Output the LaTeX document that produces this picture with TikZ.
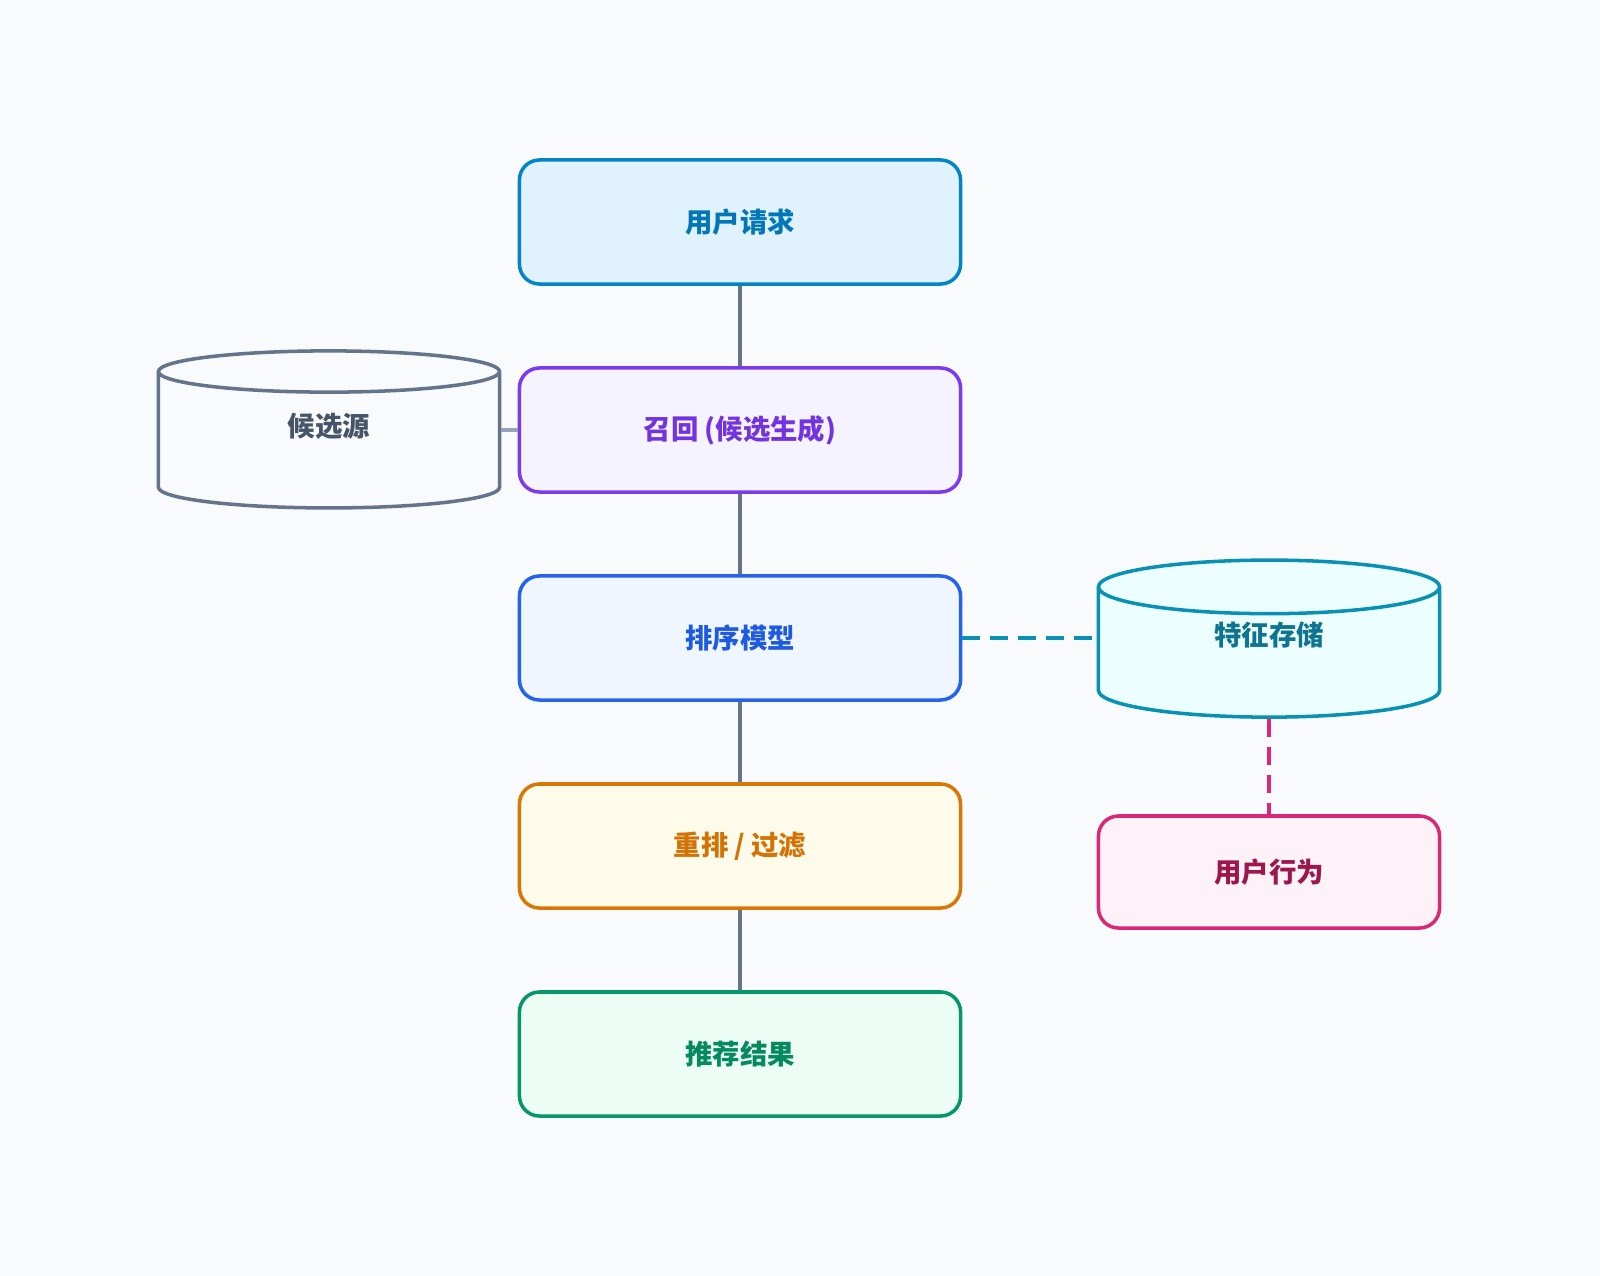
\documentclass[tikz,border=0pt]{standalone}
\usepackage{fontspec}
\newfontfamily\cjk{Noto Sans CJK SC}
\usepackage{tikz}
\usetikzlibrary{shapes.geometric}
\usetikzlibrary{arrows.meta}
\usetikzlibrary{calc,positioning}

\definecolor{bgc}{HTML}{F8FAFC}
\definecolor{linec}{HTML}{64748B}
\definecolor{linelight}{HTML}{94A3B8}
\definecolor{skyd}{HTML}{0284C7}\definecolor{skyf}{HTML}{E0F2FE}\definecolor{skyt}{HTML}{0277B8}
\definecolor{viod}{HTML}{7C3AED}\definecolor{viof}{HTML}{F5F3FF}\definecolor{viot}{HTML}{7334E0}
\definecolor{blud}{HTML}{2563EB}\definecolor{bluf}{HTML}{EFF6FF}\definecolor{blut}{HTML}{1F5BE0}
\definecolor{ambd}{HTML}{D97706}\definecolor{ambf}{HTML}{FFFBEB}\definecolor{ambt}{HTML}{D27306}
\definecolor{emed}{HTML}{059669}\definecolor{emef}{HTML}{ECFDF5}\definecolor{emet}{HTML}{058A60}
\definecolor{cyad}{HTML}{0891B2}\definecolor{cyaf}{HTML}{ECFEFF}\definecolor{cyat}{HTML}{0E7490}
\definecolor{pnkd}{HTML}{DB2777}\definecolor{pnkf}{HTML}{FDF2F8}\definecolor{pnkt}{HTML}{9D174D}
\definecolor{slat}{HTML}{475569}

\tikzset{
	stage/.style={draw=#1d,fill=#1f,text=#1t,rounded corners=0.5cm,line width=2.5pt,
		minimum width=11.025cm,minimum height=3.1cm,font=\cjk\bfseries\fontsize{19.5}{23}\selectfont},
	store/.style={cylinder,shape border rotate=90,aspect=0.45,draw=#1,line width=2.5pt,
		minimum width=8.525cm,minimum height=3.925cm,font=\cjk\bfseries\fontsize{19.5}{23}\selectfont},
	link/.style={draw=linec,line width=2.2pt},
	dashlink/.style={draw=#1,line width=2.2pt,dash pattern=on 0.45cm off 0.25cm}
}

\begin{document}
\begin{tikzpicture}[x=0.025cm,y=-0.025cm,>=Stealth]
		\fill[bgc] (0,0) rectangle (1600,1276);
		\useasboundingbox (0,0) rectangle (1600,1276);
		% main pipeline
		\node[stage=sky] (req) at (740,222) {用户请求};
		\node[stage=vio] (recall) at (740,430) {召回 (候选生成)};
		\node[stage=blu] (rank) at (740,638) {排序模型};
		\node[stage=amb] (rerank) at (740,846) {重排 / 过滤};
		\node[stage=eme] (result) at (740,1054) {推荐结果};
		% side stores
		\node[store=linec,fill=bgc,text=slat] (cand) at (329,443) {\raisebox{0.9cm}{候选源}};
		\node[store=cyad,fill=cyaf,text=cyat] (feat) at (1269,656) {\raisebox{1.1cm}{特征存储}};
		\node[stage=pnk,minimum width=8.525cm,minimum height=2.8cm] (behav) at (1269,872) {用户行为};
		\foreach \a/\b in {req/recall,recall/rank,rank/rerank,rerank/result}{
			\draw[link] (\a.south) -- (\b.north);
		}
		\draw[link,draw=linelight] (recall.west -| cand.east) -- (recall.west);
		\draw[dashlink=cyad] (rank.east) -- (rank.east -| feat.west);
		\draw[dashlink=pnkd] (feat.south) -- (behav.north);
	\end{tikzpicture}
\end{document}
